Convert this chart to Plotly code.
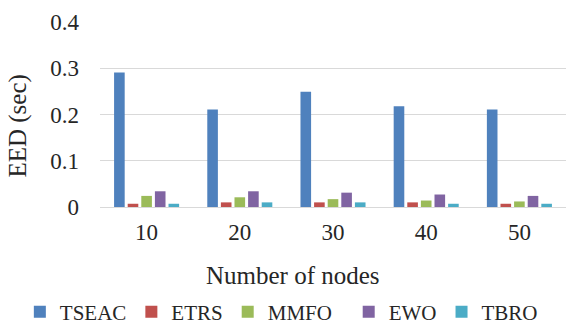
import plotly.graph_objects as go

categories = ["10", "20", "30", "40", "50"]
series_names = ["TSEAC", "ETRS", "MMFO", "EWO", "TBRO"]
tseac = [0.291, 0.211, 0.249, 0.218, 0.211]
etrs = [0.007, 0.010, 0.010, 0.010, 0.007]
mmfo = [0.024, 0.021, 0.017, 0.014, 0.012]
ewo = [0.034, 0.034, 0.031, 0.027, 0.024]
tbro = [0.007, 0.010, 0.010, 0.007, 0.007]
y_ticks = [0, 0.1, 0.2, 0.3, 0.4]
y_tick_labels = ["0", "0.1", "0.2", "0.3", "0.4"]

colors = ["#4F81BD", "#C0504D", "#9BBB59", "#8064A2", "#4BACC6"]
values = [tseac, etrs, mmfo, ewo, tbro]
legend_ids = ["legend", "legend", "legend", "legend2", "legend2"]

FONT = "Liberation Serif"
TXT = "#262626"

fig = go.Figure()
for name, vals, col, lg in zip(series_names, values, colors, legend_ids):
    fig.add_trace(go.Bar(x=categories, y=vals, name=name, marker_color=col,
                         marker_line_width=0, legend=lg))

legend_common = dict(orientation="h", xref="container", yref="container",
                     xanchor="left", y=0.043, yanchor="middle",
                     font=dict(family=FONT, size=21, color=TXT),
                     itemwidth=30, tracegroupgap=0, bgcolor="rgba(0,0,0,0)")

fig.update_layout(
    template="none",
    width=567, height=326,
    margin=dict(l=100, r=1, t=22, b=119, autoexpand=False),
    paper_bgcolor="white", plot_bgcolor="white",
    barmode="group", bargap=0.27, bargroupgap=0.22,
    font=dict(family=FONT, color=TXT, size=23),
    showlegend=True,
    legend=dict(x=0.035, **legend_common),
    legend2=dict(x=0.615, **legend_common),
    annotations=[
        dict(text="Number of nodes", xref="paper", yref="paper",
             x=0.414, y=-0.368, xanchor="center", yanchor="middle",
             showarrow=False, font=dict(family=FONT, size=25, color=TXT)),
        dict(text="EED (sec)", xref="paper", yref="paper",
             x=-0.176, y=0.44, xanchor="center", yanchor="middle",
             textangle=-90, showarrow=False,
             font=dict(family=FONT, size=25, color=TXT)),
    ],
)
fig.update_xaxes(showgrid=False, showline=True, linecolor="#D9D9D9", linewidth=1,
                 ticks="", ticklabelstandoff=4,
                 tickfont=dict(family=FONT, size=23, color=TXT))
fig.update_yaxes(range=[0, 0.4], tickvals=y_ticks, ticktext=y_tick_labels,
                 showgrid=True, gridcolor="#D9D9D9", gridwidth=1,
                 zeroline=False, showline=False, ticks="",
                 ticklabelstandoff=20,
                 tickfont=dict(family=FONT, size=23, color=TXT))

fig.write_html("out.html", config={"displayModeBar": False},
               post_script="document.body.style.margin='0';document.body.style.padding='0';")
